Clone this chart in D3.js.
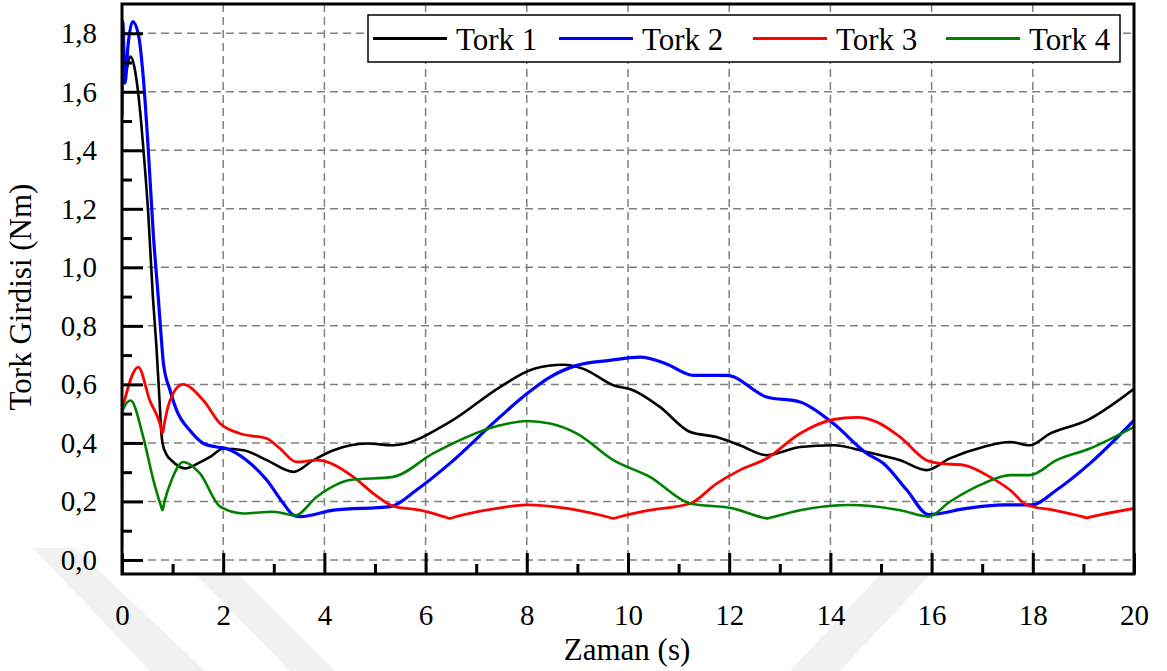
<!DOCTYPE html>
<html>
<head>
<meta charset="utf-8">
<script src="https://cdn.jsdelivr.net/npm/d3@7"></script>
<style>
  body { margin: 0; background: #fff; }
  svg text { fill: #000; }
</style>
</head>
<body>
<svg id="chart" width="1167" height="671"></svg>
<script>
// [zaman, tork] pairs
const tork1 = [[0,1.63],[0.04,1.64],[0.17,1.72],[0.26,1.67],[0.36,1.53],[0.42,1.41],[0.52,1.18],[0.61,0.90],[0.68,0.73],[0.74,0.55],[0.78,0.43],[0.80,0.40],[0.88,0.36],[0.98,0.34],[1.25,0.313],[1.5,0.33],[1.74,0.352],[2.0,0.38],[2.4,0.375],[2.86,0.341],[3.39,0.301],[3.78,0.341],[4.18,0.375],[4.84,0.398],[5.36,0.392],[6.48,0.472],[7.47,0.591],[8.13,0.653],[8.72,0.667],[9.12,0.653],[9.71,0.597],[10.1,0.58],[10.63,0.523],[11.23,0.437],[11.75,0.42],[12.21,0.392],[12.74,0.358],[13.4,0.386],[14.06,0.392],[14.72,0.369],[15.38,0.341],[15.9,0.307],[16.36,0.347],[17.02,0.386],[17.55,0.403],[17.94,0.392],[18.34,0.432],[19.07,0.477],[20,0.585]];

const tork2 = [[0,1.52],[0.015,1.84],[0.06,1.63],[0.12,1.76],[0.21,1.84],[0.32,1.80],[0.42,1.65],[0.52,1.40],[0.62,1.11],[0.72,0.89],[0.78,0.75],[0.82,0.67],[0.95,0.58],[1.08,0.511],[1.34,0.443],[1.61,0.398],[1.87,0.386],[2.07,0.38],[2.46,0.341],[2.86,0.273],[3.19,0.193],[3.39,0.153],[3.52,0.148],[4.18,0.17],[5.3,0.182],[5.82,0.239],[6.48,0.33],[7.47,0.489],[8.0,0.568],[8.46,0.625],[8.99,0.665],[9.64,0.682],[10.24,0.693],[10.76,0.67],[11.29,0.631],[11.95,0.631],[12.74,0.557],[13.4,0.54],[14.06,0.466],[14.72,0.364],[15.05,0.33],[15.51,0.239],[15.94,0.155],[16.69,0.176],[17.42,0.188],[17.98,0.188],[18.47,0.239],[19.13,0.33],[20,0.477]];

const tork3 = [[0,0.511],[0.32,0.659],[0.55,0.545],[0.76,0.46],[0.80,0.432],[0.84,0.47],[0.95,0.545],[1.2,0.60],[1.61,0.545],[1.94,0.466],[2.33,0.432],[2.86,0.415],[3.12,0.381],[3.45,0.335],[3.85,0.341],[4.57,0.284],[4.97,0.227],[5.36,0.184],[5.89,0.17],[6.4,0.146],[6.48,0.142],[6.56,0.146],[7.47,0.178],[8.0,0.188],[8.79,0.176],[9.62,0.146],[9.71,0.142],[9.8,0.146],[10.43,0.17],[11.23,0.193],[11.75,0.261],[12.21,0.307],[12.74,0.347],[13.4,0.432],[14.06,0.48],[14.52,0.487],[14.91,0.472],[15.38,0.42],[15.9,0.341],[16.17,0.33],[16.63,0.324],[17.15,0.284],[17.55,0.239],[17.88,0.188],[18.41,0.17],[19.0,0.147],[19.07,0.144],[19.14,0.147],[20,0.176]];

const tork4 = [[0,0.045],[0.01,0.51],[0.17,0.545],[0.42,0.42],[0.62,0.273],[0.76,0.19],[0.80,0.17],[0.84,0.2],[0.98,0.273],[1.21,0.335],[1.54,0.296],[1.94,0.182],[2.4,0.159],[2.99,0.165],[3.42,0.152],[3.85,0.216],[4.5,0.273],[5.36,0.284],[6.15,0.364],[7.47,0.46],[8.0,0.475],[8.46,0.466],[8.99,0.432],[9.71,0.341],[10.43,0.284],[11.23,0.193],[12.08,0.176],[12.66,0.145],[12.74,0.142],[12.82,0.145],[13.4,0.17],[14.39,0.188],[15.38,0.17],[15.94,0.148],[16.36,0.199],[17.02,0.261],[17.55,0.29],[17.94,0.29],[18.47,0.341],[19.13,0.381],[20,0.455]];

const seriesNames = ["Tork 1", "Tork 2", "Tork 3", "Tork 4"];
const seriesColors = ["#000000", "#0000ff", "#ff0000", "#008000"];
const xMajor = [0, 2, 4, 6, 8, 10, 12, 14, 16, 18, 20];
const xMinor = [1, 3, 5, 7, 9, 11, 13, 15, 17, 19];
const yMajor = [0, 0.2, 0.4, 0.6, 0.8, 1.0, 1.2, 1.4, 1.6, 1.8];
const yMinor = [0.1, 0.3, 0.5, 0.7, 0.9, 1.1, 1.3, 1.5, 1.7];

const plotL = 122, plotR = 1134, plotT = 4, plotB = 574;
const serifFont = "Liberation Serif, Tinos, Times New Roman, DejaVu Serif, Noto Serif, serif";

var svg = d3.select("#chart");

// faint watermark bands at the bottom of the page
var marks = [
    [[33,548],[75,548],[205,671],[150,671]],
    [[170,548],[212,548],[335,671],[290,671]],
    [[905,548],[955,548],[840,671],[790,671]]
];
svg.append("g").selectAll("polygon")
    .data(marks)
    .enter().append("polygon")
    .attr("points", d => d.map(p => p.join(",")).join(" "))
    .attr("fill", "#f1f1f1");

var x = d3.scaleLinear().domain([0, 20]).range([plotL, plotR]);
var y = d3.scaleLinear().domain([-0.048, 1.9]).range([plotB, plotT]);

svg.append("defs").append("clipPath").attr("id", "plotclip")
  .append("rect")
    .attr("x", plotL).attr("y", plotT)
    .attr("width", plotR - plotL).attr("height", plotB - plotT);

// white plot area hides the watermark
svg.append("rect")
    .attr("x", plotL).attr("y", plotT)
    .attr("width", plotR - plotL).attr("height", plotB - plotT)
    .attr("fill", "#fff");

// dashed grid
var grid = svg.append("g")
    .attr("stroke", "#808080")
    .attr("stroke-width", 1.5)
    .attr("stroke-dasharray", "8,5");

grid.selectAll(".gx")
    .data(xMajor.filter(d => d > 0 && d < 20))
    .enter().append("line")
    .attr("x1", d => x(d)).attr("x2", d => x(d))
    .attr("y1", plotT).attr("y2", plotB);

grid.selectAll(".gy")
    .data(yMajor)
    .enter().append("line")
    .attr("x1", plotL).attr("x2", plotR)
    .attr("y1", d => y(d)).attr("y2", d => y(d));

// curves
var line = d3.line()
    .x(d => x(d[0]))
    .y(d => y(d[1]))
    .curve(d3.curveMonotoneX);

var allSeries = [tork1, tork2, tork3, tork4];
var widths = [2.6, 3.2, 2.8, 2.6];

svg.append("g")
    .attr("clip-path", "url(#plotclip)")
  .selectAll("path")
    .data(allSeries)
    .enter().append("path")
    .attr("fill", "none")
    .attr("stroke", (d, i) => seriesColors[i])
    .attr("stroke-width", (d, i) => widths[i])
    .attr("stroke-linejoin", "round")
    .attr("d", line);

// axes with inward ticks
var fmt = d => d3.format(".1f")(d).replace(".", ",");

svg.append("g")
    .attr("transform", "translate(" + plotL + ",0)")
    .call(d3.axisLeft(y).tickValues(yMajor).tickSize(-21).tickPadding(25).tickFormat(fmt));

svg.append("g")
    .attr("transform", "translate(" + plotL + ",0)")
    .call(d3.axisLeft(y).tickValues(yMinor).tickSize(-10).tickFormat(""));

svg.append("g")
    .attr("transform", "translate(0," + plotB + ")")
    .call(d3.axisBottom(x).tickValues(xMajor).tickSize(-21).tickPadding(30).tickFormat(d3.format("d")));

svg.append("g")
    .attr("transform", "translate(0," + plotB + ")")
    .call(d3.axisBottom(x).tickValues(xMinor).tickSize(-10).tickFormat(""));

svg.selectAll(".domain").remove();
svg.selectAll(".tick line").attr("stroke", "#000").attr("stroke-width", 3);
svg.selectAll(".tick text")
    .attr("font-family", serifFont)
    .attr("font-size", 29);

// frame
svg.append("rect")
    .attr("x", plotL).attr("y", plotT)
    .attr("width", plotR - plotL).attr("height", plotB - plotT)
    .attr("fill", "none")
    .attr("stroke", "#000")
    .attr("stroke-width", 3);

// axis titles
svg.append("text")
    .attr("x", 627).attr("y", 660)
    .attr("text-anchor", "middle")
    .attr("font-family", serifFont)
    .attr("font-size", 31)
    .text("Zaman (s)");

svg.append("text")
    .attr("transform", "translate(31,297) rotate(-90)")
    .attr("text-anchor", "middle")
    .attr("font-family", serifFont)
    .attr("font-size", 31)
    .text("Tork Girdisi (Nm)");

// legend
var legend = svg.append("g");
legend.append("rect")
    .attr("x", 368).attr("y", 15)
    .attr("width", 752).attr("height", 47)
    .attr("fill", "#fff")
    .attr("stroke", "#000")
    .attr("stroke-width", 1.5);

var legendX = [373, 559, 753, 946];
var item = legend.selectAll(".item")
    .data(seriesNames)
    .enter().append("g")
    .attr("transform", (d, i) => "translate(" + legendX[i] + ",38.5)");

item.append("line")
    .attr("x1", 0).attr("x2", 74)
    .attr("stroke", (d, i) => seriesColors[i])
    .attr("stroke-width", 3);

item.append("text")
    .attr("x", 83).attr("y", 11)
    .attr("font-family", serifFont)
    .attr("font-size", 31)
    .text(d => d);
</script>
</body>
</html>
